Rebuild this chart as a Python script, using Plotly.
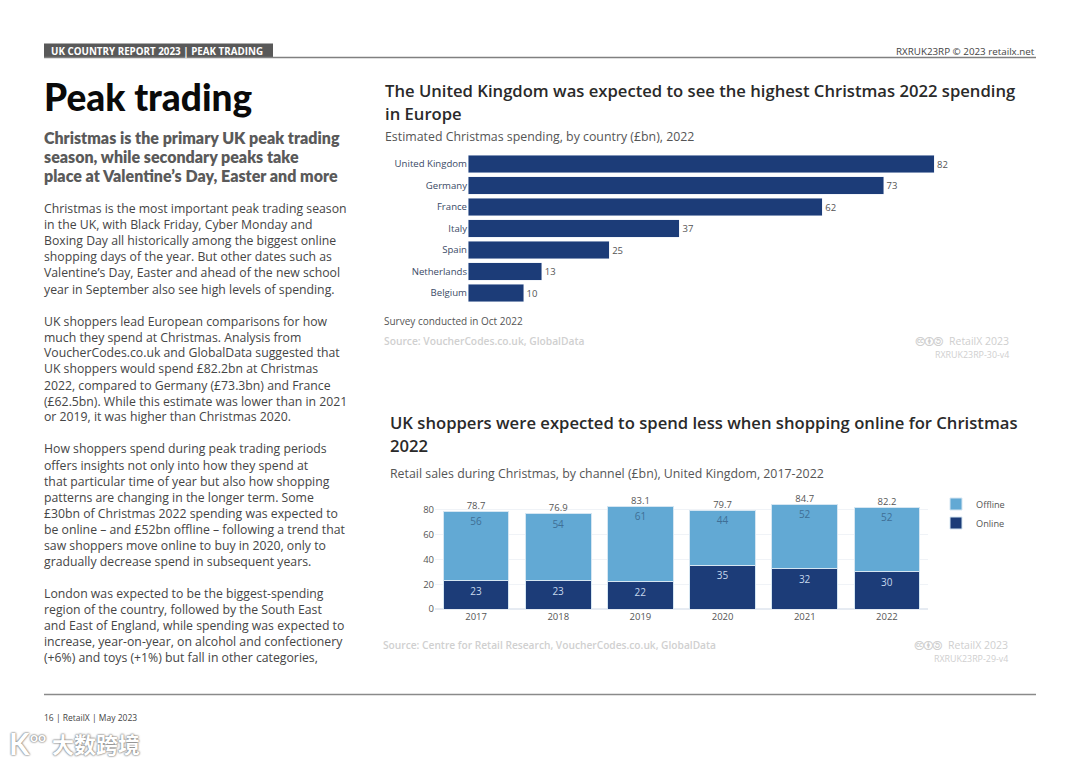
import plotly.graph_objects as go

# ---------- data ----------
countries = ["United Kingdom", "Germany", "France", "Italy", "Spain", "Netherlands", "Belgium"]
spending = [82.2, 73.3, 62.5, 37.3, 24.9, 13, 9.8]
spending_labels = ["82", "73", "62", "37", "25", "13", "10"]

years = ["2017", "2018", "2019", "2020", "2021", "2022"]
online = [23, 23, 22, 35.4, 32.5, 30.2]
offline = [55.7, 53.9, 61.1, 44.3, 52.2, 52.0]
online_labels = ["23", "23", "22", "35", "32", "30"]
offline_labels = ["56", "54", "61", "44", "52", "52"]
totals = [78.7, 76.9, 83.1, 79.7, 84.7, 82.2]

body_lines = [
    (208, "Christmas is the most important peak trading season"),
    (224, "in the UK, with Black Friday, Cyber Monday and"),
    (240.5, "Boxing Day all historically among the biggest online"),
    (256.5, "shopping days of the year. But other dates such as"),
    (272.5, "Valentine’s Day, Easter and ahead of the new school"),
    (289, "year in September also see high levels of spending."),
    (321, "UK shoppers lead European comparisons for how"),
    (337, "much they spend at Christmas. Analysis from"),
    (352.5, "VoucherCodes.co.uk and GlobalData suggested that"),
    (369, "UK shoppers would spend £82.2bn at Christmas"),
    (385, "2022, compared to Germany (£73.3bn) and France"),
    (401, "(£62.5bn). While this estimate was lower than in 2021"),
    (417, "or 2019, it was higher than Christmas 2020."),
    (449, "How shoppers spend during peak trading periods"),
    (465, "offers insights not only into how they spend at"),
    (481, "that particular time of year but also how shopping"),
    (497, "patterns are changing in the longer term. Some"),
    (513, "£30bn of Christmas 2022 spending was expected to"),
    (529, "be online – and £52bn offline – following a trend that"),
    (545, "saw shoppers move online to buy in 2020, only to"),
    (561, "gradually decrease spend in subsequent years."),
    (593, "London was expected to be the biggest-spending"),
    (609, "region of the country, followed by the South East"),
    (625, "and East of England, while spending was expected to"),
    (641, "increase, year-on-year, on alcohol and confectionery"),
    (657, "(+6%) and toys (+1%) but fall in other categories,"),
]

W, H = 1080, 763
NAVY, SKY = "#1c3c78", "#62a9d4"
OS = "Open Sans"
GLOW = "0 0 2px #777777, 0 0 2px #777777"
annotations = []


def px(x):
    return x / W


def py(y):
    return 1 - y / H


def txt(x, y, s, size, color="#444444", weight=400, family=OS, anchor="left", shadow=None):
    font = dict(size=size, color=color, weight=weight, family=family)
    if shadow:
        font["shadow"] = shadow
    annotations.append(dict(
        x=px(x - 1 if anchor == "left" else x), y=py(y), xref="paper", yref="paper", text=s, showarrow=False,
        xanchor=anchor, yanchor="middle", borderpad=0, font=font,
    ))


fig = go.Figure()

# top chart
fig.add_trace(go.Bar(
    y=countries, x=spending, orientation="h", xaxis="x", yaxis="y",
    marker=dict(color=NAVY), width=0.8, showlegend=False,
    text=spending_labels, textposition="outside", cliponaxis=False,
    textfont=dict(size=9.5, color="#555555", family=OS),
))

# bottom chart
fig.add_trace(go.Bar(
    x=years, y=online, name="Online", xaxis="x2", yaxis="y2",
    marker=dict(color=NAVY, line=dict(color="#d5e6f2", width=1)),
    text=online_labels, textposition="inside", insidetextanchor="end",
    textfont=dict(size=10, color="#c6d8ec", family=OS), textangle=0,
))
fig.add_trace(go.Bar(
    x=years, y=offline, name="Offline", xaxis="x2", yaxis="y2",
    marker=dict(color=SKY, line=dict(color="#d5e6f2", width=1)),
    text=offline_labels, textposition="inside", insidetextanchor="end",
    textfont=dict(size=10, color="#3f6f96", family=OS), textangle=0,
))
fig.add_trace(go.Scatter(
    x=years, y=totals, mode="text", text=[str(t) for t in totals],
    textposition="top center", xaxis="x2", yaxis="y2", showlegend=False,
    textfont=dict(size=9.5, color="#555555", family=OS), cliponaxis=False,
))

# header / footer text
txt(51, 51, "UK COUNTRY REPORT 2023 | PEAK TRADING", 9.8, "#ffffff", 700)
txt(1036, 51, "RXRUK23RP © 2023 retailx.net", 9.8, "#444444", 400, OS, "right")
txt(44, 717, "16 | RetailX | May 2023", 8.5, "#444444")

# left column
txt(44, 97, "Peak trading", 37, "#0a0a0a", 900, "Lato")
txt(44, 137.5, "Christmas is the primary UK peak trading", 16, "#5a5a5a", 800, "Lato")
txt(44, 156.5, "season, while secondary peaks take", 16, "#5a5a5a", 800, "Lato")
txt(44, 175.5, "place at Valentine’s Day, Easter and more", 16, "#5a5a5a", 800, "Lato")
for y, line in body_lines:
    txt(44, y, line, 12.25, "#454545")

# right column titles
TS = 16.65
txt(385, 91, "The United Kingdom was expected to see the highest Christmas 2022 spending", TS, "#2a2a2a", 600)
txt(385, 113.5, "in Europe", TS, "#2a2a2a", 600)
txt(385, 137, "Estimated Christmas spending, by country (£bn), 2022", 12.35, "#555555")
txt(384, 321, "Survey conducted in Oct 2022", 10, "#555555")
txt(384, 341, "Source: VoucherCodes.co.uk, GlobalData", 10.25, "#d0d0d0", 600)
txt(1010, 341, "RetailX 2023", 10.5, "#cfcfcf", 400, OS, "right")
txt(1010, 354, "RXRUK23RP-30-v4", 8.9, "#cfcfcf", 400, OS, "right")
txt(915, 340, "🅭🅯🄎", 14, "#cfcfcf")

txt(390, 422.5, "UK shoppers were expected to spend less when shopping online for Christmas", TS, "#2a2a2a", 600)
txt(390, 445.5, "2022", TS, "#2a2a2a", 600)
txt(390, 473, "Retail sales during Christmas, by channel (£bn), United Kingdom, 2017-2022", 12.35, "#555555")
txt(383, 645, "Source: Centre for Retail Research, VoucherCodes.co.uk, GlobalData", 10.2, "#d0d0d0", 600)
txt(1009, 645, "RetailX 2023", 10.5, "#cfcfcf", 400, OS, "right")
txt(1009, 658, "RXRUK23RP-29-v4", 8.9, "#cfcfcf", 400, OS, "right")
txt(914, 644, "🅭🅯🄎", 14, "#cfcfcf")

# watermark
txt(52, 743, "大数跨境", 22, "#ffffff", 700, "Noto Sans CJK SC", shadow=GLOW)
txt(9, 743, "K", 30, "#ffffff", 700, "Lato", shadow=GLOW)
txt(30, 736, "oo", 14, "#ffffff", 700, "Lato", shadow=GLOW)

shapes = [
    dict(type="rect", xref="paper", yref="paper", x0=px(44), x1=px(273), y0=py(57.5), y1=py(43.5),
         fillcolor="#595959", line=dict(width=0), layer="below"),
    dict(type="line", xref="paper", yref="paper", x0=px(44), x1=px(1036), y0=py(57.5), y1=py(57.5),
         line=dict(color="#808080", width=1.3)),
    dict(type="line", xref="paper", yref="paper", x0=px(44), x1=px(1036), y0=py(694.5), y1=py(694.5),
         line=dict(color="#8a8a8a", width=1.5)),
]

fig.update_layout(
    width=W, height=H, autosize=False, margin=dict(l=0, r=0, t=0, b=0, pad=0, autoexpand=False),
    paper_bgcolor="#ffffff", plot_bgcolor="#ffffff", barmode="stack",
    annotations=annotations, shapes=shapes, font=dict(family=OS),
    xaxis=dict(domain=[px(468), px(1010)], range=[0, 95.6], visible=False, anchor="y"),
    yaxis=dict(domain=[py(303.75), py(153.25)], autorange="reversed", anchor="x",
               tickfont=dict(size=9.6, color="#3a4a66", family=OS), ticklen=0,
               showline=False, showgrid=False, type="category"),
    xaxis2=dict(domain=[px(435), px(928)], anchor="y2", type="category",
                tickfont=dict(size=9.5, color="#555555", family=OS), ticklen=0,
                showgrid=False, showline=False, fixedrange=True),
    yaxis2=dict(domain=[py(609), py(495)], range=[0, 92], anchor="x2", tickvals=[0, 20, 40, 60, 80],
                tickfont=dict(size=9.5, color="#555555", family=OS), ticklen=0,
                gridcolor="#f0f3f7", gridwidth=1, zeroline=True, zerolinecolor="#e6ebf2"),
    bargap=0.2,
    legend=dict(x=px(936), y=py(489.5), xanchor="left", yanchor="top", traceorder="reversed",
                font=dict(size=9.2, color="#555555", family=OS), bgcolor="rgba(0,0,0,0)",
                tracegroupgap=0, itemclick=False),
)
fig.write_html("out.html", config={"displayModeBar": False},
               post_script="document.body.style.margin='0';document.body.style.overflow='hidden';")
